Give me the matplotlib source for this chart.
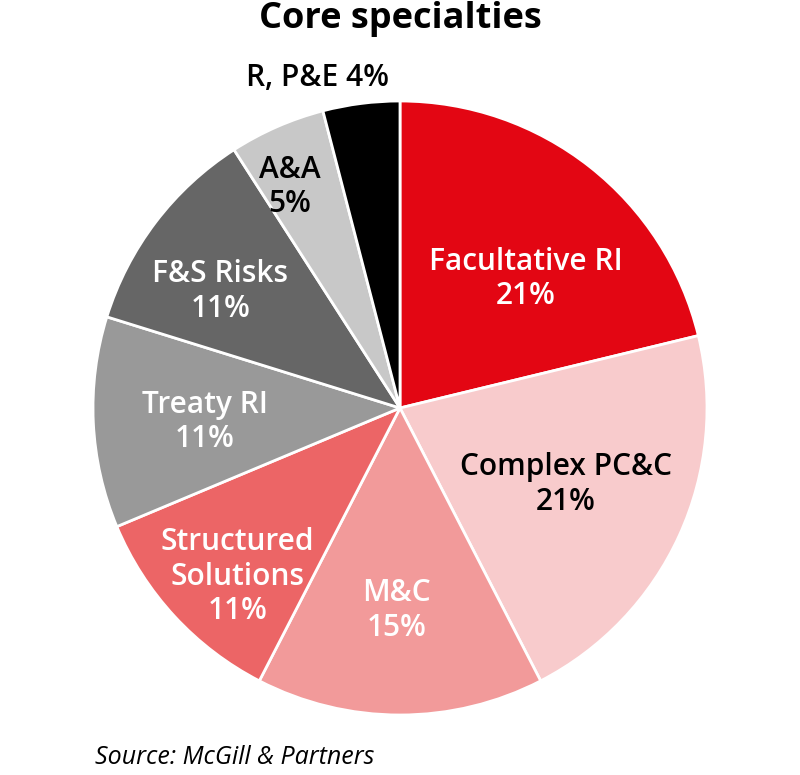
import matplotlib.pyplot as plt

plt.rcParams['font.family'] = ['Open Sans', 'DejaVu Sans']

segments = ['Facultative RI', 'Complex PC&C', 'M&C', 'Structured\nSolutions',
            'Treaty RI', 'F&S Risks', 'A&A', 'R, P&E']
shares = [21, 21, 15, 11, 11, 11, 5, 4]
colors = ['#E30613', '#F8CBCC', '#F29A9A', '#EC6566',
          '#999999', '#666666', '#C8C8C8', '#000000']
text_colors = ['white', 'black', 'white', 'white', 'white', 'white', 'black', 'black']
# label anchor points in pie units (radius = 1)
label_xy = [(0.41, 0.42), (0.54, -0.25), (-0.01, -0.66), (-0.53, -0.55),
            (-0.635, -0.045), (-0.585, 0.38), (-0.36, 0.72), (-0.27, 1.075)]

W, H = 800, 775
fig = plt.figure(figsize=(W / 100, H / 100), dpi=100)
cx, cy, r = 400, 408, 307
ax = fig.add_axes([(cx - r) / W, (H - cy - r) / H, 2 * r / W, 2 * r / H])

ax.pie(shares, colors=colors, startangle=90, counterclock=False, radius=1,
       wedgeprops=dict(edgecolor='white', linewidth=2))
ax.set_xlim(-1, 1)
ax.set_ylim(-1, 1)
ax.set_aspect('equal')
ax.axis('off')

for name, val, (x, y), tc in zip(segments, shares, label_xy, text_colors):
    if name == 'R, P&E':
        txt = f'{name} {val}%'
    else:
        txt = f'{name}\n{val}%'
    ax.text(x, y, txt, ha='center', va='center', color=tc, fontsize=21.5,
            fontweight='semibold', linespacing=1.2, clip_on=False)

fig.text(0.5, 1 - 19 / H, 'Core specialties', ha='center', va='center',
         fontsize=26, fontweight='bold')
fig.text(95 / W, 1 - 758 / H, 'Source: McGill & Partners', ha='left', va='center',
         fontsize=18, style='italic')

fig.savefig('out.png', dpi=100)
